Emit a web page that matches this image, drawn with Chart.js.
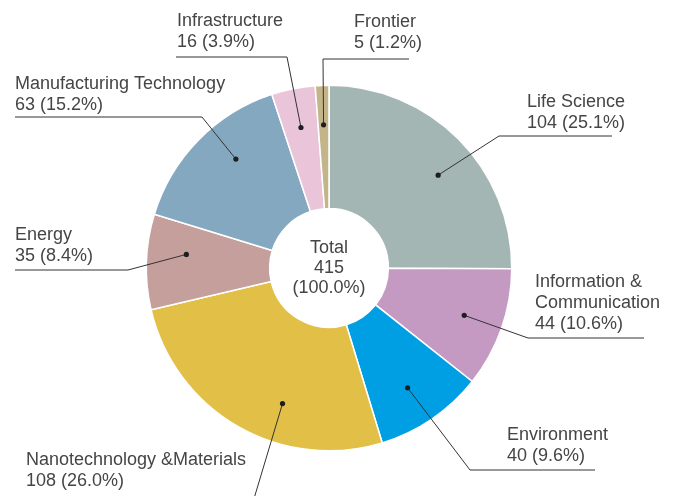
<!DOCTYPE html>
<html>
<head>
<meta charset="utf-8">
<script src="https://cdn.jsdelivr.net/npm/chart.js@4"></script>
<style>
    html, body { margin: 0; padding: 0; background: #fff; }
    #chart { display: block; }
</style>
</head>
<body>
<canvas id="chart" width="677" height="496"></canvas>
<script>
// 분야별 과제 수
const categories = [
    ['Life Science'],
    ['Information &', 'Communication'],
    ['Environment'],
    ['Nanotechnology &Materials'],
    ['Energy'],
    ['Manufacturing Technology'],
    ['Infrastructure'],
    ['Frontier']
];
const counts = [104, 44, 40, 108, 35, 63, 16, 5];
const sliceColors = ['#a4b6b4', '#c49ac3', '#009fe3', '#e2bf46', '#c59f9b', '#85a8c1', '#eac5da', '#c3b589'];
const totalLabel = 'Total';

// 라벨 배치 (텍스트 위치, 밑줄, 꺾임점)
const labelLayout = [
    { x: 527, y: 107, line: [499, 612, 136], corner: 'left', nudge: 4.5 },
    { x: 535, y: 287, line: [528, 644, 338], corner: 'left', nudge: 0 },
    { x: 507, y: 440, line: [470, 595, 470], corner: 'left', nudge: 1 },
    { x: 26, y: 465, line: [200, 253, 502], corner: 'right', nudge: -11, noUnderline: true },
    { x: 15, y: 240, line: [15, 128, 270], corner: 'right', nudge: 3.5 },
    { x: 15, y: 89, line: [15, 202, 117], corner: 'right', nudge: 5 },
    { x: 177, y: 26, line: [176, 287, 57], corner: 'right', nudge: 0 },
    { x: 354, y: 27, line: [323, 409, 59], corner: 'left', nudge: 0 }
];

const FONT = '18px "Liberation Sans", Arial, sans-serif';
const TEXT_COLOR = '#454545';
const LINE_COLOR = '#333333';

const total = counts.reduce((a, b) => a + b, 0);
const pct = v => (v / total * 100).toFixed(1);

const calloutPlugin = {
    id: 'callouts',
    afterDatasetsDraw(chart) {
        const ctx = chart.ctx;
        const arcs = chart.getDatasetMeta(0).data;
        ctx.save();
        ctx.font = FONT;
        ctx.fillStyle = TEXT_COLOR;
        ctx.textBaseline = 'alphabetic';

        arcs.forEach((arc, i) => {
            const lay = labelLayout[i];
            const mid = (arc.startAngle + arc.endAngle) / 2 + lay.nudge * Math.PI / 180;
            const r = arc.innerRadius + (arc.outerRadius - arc.innerRadius) * 0.68;
            const dx = arc.x + Math.cos(mid) * r;
            const dy = arc.y + Math.sin(mid) * r;

            // 텍스트
            const lines = [...categories[i], `${counts[i]} (${pct(counts[i])}%)`];
            ctx.textAlign = 'left';
            lines.forEach((t, k) => ctx.fillText(t, lay.x, lay.y + k * 21));

            // 지시선
            const [x1, x2, ly] = lay.line;
            const cx = lay.corner === 'left' ? x1 : x2;
            ctx.strokeStyle = LINE_COLOR;
            ctx.lineWidth = 1;
            ctx.beginPath();
            if (!lay.noUnderline) {
                ctx.moveTo(x1, ly);
                ctx.lineTo(x2, ly);
            }
            ctx.moveTo(cx, ly);
            ctx.lineTo(dx, dy);
            ctx.stroke();

            ctx.fillStyle = '#1e1e1e';
            ctx.beginPath();
            ctx.arc(dx, dy, 2.6, 0, Math.PI * 2);
            ctx.fill();
            ctx.fillStyle = TEXT_COLOR;
        });

        // 중앙 합계
        const c = arcs[0];
        ctx.textAlign = 'center';
        ctx.fillText(totalLabel, c.x, 253);
        ctx.fillText(String(total), c.x, 273);
        ctx.fillText('(100.0%)', c.x, 293);
        ctx.restore();
    }
};

new Chart(document.getElementById('chart').getContext('2d'), {
    type: 'doughnut',
    data: {
        labels: categories.map(c => c.join(' ')),
        datasets: [{
            data: counts,
            backgroundColor: sliceColors,
            borderColor: '#ffffff',
            borderWidth: 1.5,
            hoverOffset: 0
        }]
    },
    options: {
        responsive: false,
        animation: false,
        cutout: '32.5%',
        layout: {
            padding: { top: 84.5, bottom: 44.5, left: 145.5, right: 164.5 }
        },
        plugins: {
            legend: { display: false },
            tooltip: { enabled: false }
        },
        events: []
    },
    plugins: [calloutPlugin]
});
</script>
</body>
</html>
